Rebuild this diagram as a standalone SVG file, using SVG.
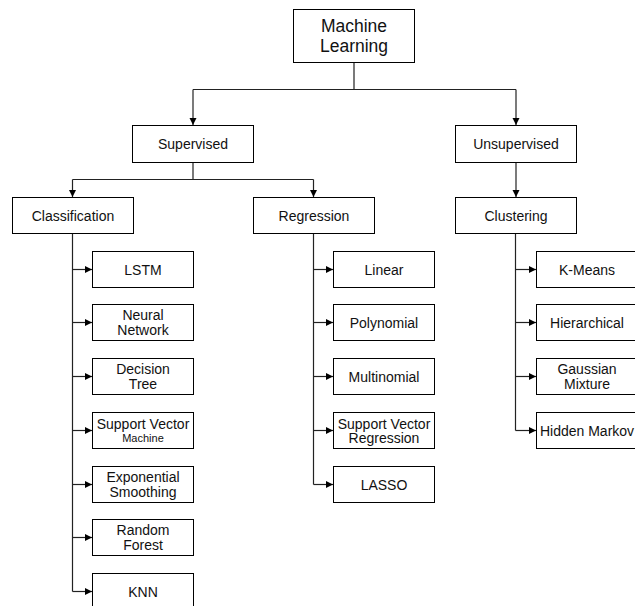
<svg xmlns="http://www.w3.org/2000/svg" width="635" height="606" viewBox="0 0 635 606">
<style>
.box{fill:#fff;stroke:#000;stroke-width:1}
.t{font-family:"Liberation Sans",Arial,Helvetica,sans-serif;font-size:14px;fill:#111;text-anchor:middle}
.big{font-size:17.5px}
.sm{font-size:11px}
.c{fill:none;stroke:#222;stroke-width:1.2}
</style>
<defs>
<marker id="ah" markerWidth="8" markerHeight="8" refX="7" refY="4" orient="auto" markerUnits="userSpaceOnUse">
<path d="M0,0.5 L7,4 L0,7.5 Z" fill="#000"/>
</marker>
</defs>
<rect width="635" height="606" fill="#fff"/>
<g id="connectors">
<path class="c" d="M354,63 V89.5 M193,89.5 H516" />
<path class="c" d="M193,89.5 V125" marker-end="url(#ah)"/>
<path class="c" d="M516,89.5 V125" marker-end="url(#ah)"/>
<path class="c" d="M193,162 V179.5 M72.5,179.5 H313.5"/>
<path class="c" d="M72.5,179.5 V197" marker-end="url(#ah)"/>
<path class="c" d="M313.5,179.5 V197" marker-end="url(#ah)"/>
<path class="c" d="M516,162 V197" marker-end="url(#ah)"/>
<path class="c" d="M72.5,233 V591.5"/>
<path class="c" d="M72.5,269.5 H92" marker-end="url(#ah)"/>
<path class="c" d="M72.5,322.5 H92" marker-end="url(#ah)"/>
<path class="c" d="M72.5,376.5 H92" marker-end="url(#ah)"/>
<path class="c" d="M72.5,430.5 H92" marker-end="url(#ah)"/>
<path class="c" d="M72.5,484.5 H92" marker-end="url(#ah)"/>
<path class="c" d="M72.5,537.5 H92" marker-end="url(#ah)"/>
<path class="c" d="M72.5,591.5 H92" marker-end="url(#ah)"/>
<path class="c" d="M313.5,233 V484.5"/>
<path class="c" d="M313.5,269.5 H333" marker-end="url(#ah)"/>
<path class="c" d="M313.5,322.5 H333" marker-end="url(#ah)"/>
<path class="c" d="M313.5,376.5 H333" marker-end="url(#ah)"/>
<path class="c" d="M313.5,430.5 H333" marker-end="url(#ah)"/>
<path class="c" d="M313.5,484.5 H333" marker-end="url(#ah)"/>
<path class="c" d="M515.5,233 V430.5"/>
<path class="c" d="M515.5,269.5 H536" marker-end="url(#ah)"/>
<path class="c" d="M515.5,322.5 H536" marker-end="url(#ah)"/>
<path class="c" d="M515.5,376.5 H536" marker-end="url(#ah)"/>
<path class="c" d="M515.5,430.5 H536" marker-end="url(#ah)"/>
</g>
<g id="ml"><rect class="box" x="293.5" y="9.5" width="121" height="53"/><text class="t big" x="354" y="32">Machine</text><text class="t big" x="354" y="52">Learning</text></g>
<g id="supervised"><rect class="box" x="132.5" y="125.5" width="121" height="37"/><text class="t" x="193" y="149">Supervised</text></g>
<g id="unsupervised"><rect class="box" x="455.5" y="125.5" width="121" height="37"/><text class="t" x="516" y="149">Unsupervised</text></g>
<g id="classification"><rect class="box" x="12.5" y="197.5" width="121" height="36"/><text class="t" x="73" y="220.5">Classification</text></g>
<g id="regression"><rect class="box" x="253.5" y="197.5" width="121" height="36"/><text class="t" x="314" y="220.5">Regression</text></g>
<g id="clustering"><rect class="box" x="455.5" y="197.5" width="121" height="36"/><text class="t" x="516" y="220.5">Clustering</text></g>

<g id="lstm"><rect class="box" x="92.5" y="251.5" width="101" height="36"/><text class="t" x="143" y="274.5">LSTM</text></g>
<g id="nn"><rect class="box" x="92.5" y="304.5" width="101" height="36"/><text class="t" x="143" y="320">Neural</text><text class="t" x="143" y="335">Network</text></g>
<g id="dt"><rect class="box" x="92.5" y="358.5" width="101" height="36"/><text class="t" x="143" y="374">Decision</text><text class="t" x="143" y="389">Tree</text></g>
<g id="svm"><rect class="box" x="92.5" y="412.5" width="101" height="36"/><text class="t" x="143" y="428.5">Support Vector</text><text class="t sm" x="143" y="442">Machine</text></g>
<g id="es"><rect class="box" x="92.5" y="466.5" width="101" height="36"/><text class="t" x="143" y="482">Exponential</text><text class="t" x="143" y="497">Smoothing</text></g>
<g id="rf"><rect class="box" x="92.5" y="519.5" width="101" height="36"/><text class="t" x="143" y="535">Random</text><text class="t" x="143" y="550">Forest</text></g>
<g id="knn"><rect class="box" x="92.5" y="573.5" width="101" height="36"/><text class="t" x="143" y="596.5">KNN</text></g>

<g id="linear"><rect class="box" x="333.5" y="251.5" width="101" height="36"/><text class="t" x="384" y="274.5">Linear</text></g>
<g id="poly"><rect class="box" x="333.5" y="304.5" width="101" height="36"/><text class="t" x="384" y="327.5">Polynomial</text></g>
<g id="multi"><rect class="box" x="333.5" y="358.5" width="101" height="36"/><text class="t" x="384" y="381.5">Multinomial</text></g>
<g id="svr"><rect class="box" x="333.5" y="412.5" width="101" height="36"/><text class="t" x="384" y="428.5">Support Vector</text><text class="t" x="384" y="443">Regression</text></g>
<g id="lasso"><rect class="box" x="333.5" y="466.5" width="101" height="36"/><text class="t" x="384" y="489.5">LASSO</text></g>

<g id="kmeans"><rect class="box" x="536.5" y="251.5" width="101" height="36"/><text class="t" x="587" y="274.5">K-Means</text></g>
<g id="hier"><rect class="box" x="536.5" y="304.5" width="101" height="36"/><text class="t" x="587" y="327.5">Hierarchical</text></g>
<g id="gmm"><rect class="box" x="536.5" y="358.5" width="101" height="36"/><text class="t" x="587" y="374">Gaussian</text><text class="t" x="587" y="389">Mixture</text></g>
<g id="hmm"><rect class="box" x="536.5" y="412.5" width="101" height="36"/><text class="t" x="587" y="435.5">Hidden Markov</text></g>
</svg>
